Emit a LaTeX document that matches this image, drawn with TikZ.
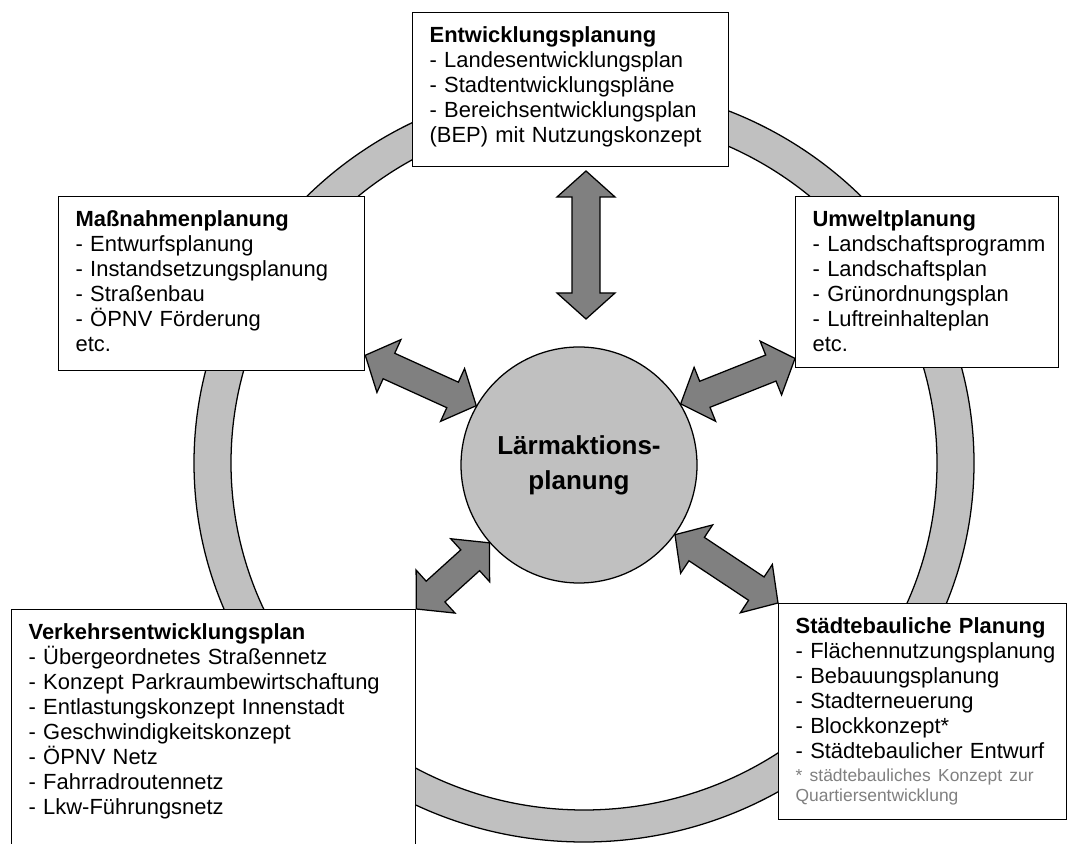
\documentclass[tikz,border=0pt]{standalone}
\usepackage{fontspec}
\setmainfont{Liberation Sans}
\usetikzlibrary{calc}
\definecolor{ringgray}{RGB}{192,192,192}
\definecolor{arrowgray}{RGB}{128,128,128}
\definecolor{notegray}{RGB}{128,128,128}
% block arrow with two heads
\newcommand{\dblarrow}[2]{%
	\coordinate (ha) at ($(#1)!0.65cm!(#2)$);
	\coordinate (hb) at ($(#2)!0.65cm!(#1)$);
	\filldraw[fill=arrowgray,line width=0.9pt] (#1)
		-- ($(ha)!0.725cm!90:(#2)$) -- ($(ha)!0.35cm!90:(#2)$)
		-- ($(hb)!0.35cm!-90:(#1)$) -- ($(hb)!0.725cm!-90:(#1)$)
		-- (#2)
		-- ($(hb)!0.725cm!90:(#1)$) -- ($(hb)!0.35cm!90:(#1)$)
		-- ($(ha)!0.35cm!-90:(#2)$) -- ($(ha)!0.725cm!-90:(#2)$)
		-- cycle;
}

\begin{document}
\begin{tikzpicture}[plan/.style={draw,fill=white,line width=0.9pt,anchor=north west,align=left,
		inner xsep=0.3cm,inner ysep=0pt,text height=0.75cm,text width=#1,
		execute at begin node={\leftskip=0.125cm\relax\rightskip=-0.3cm plus 1fil\relax},
		font=\fontsize{15.6pt}{17.8pt}\selectfont},
	]
	\useasboundingbox (0,0) rectangle (26.85,21.075);
	\clip (0,0) rectangle (26.85,21.075);
	%ring
	\filldraw[fill=ringgray,line width=0.9pt,even odd rule] (14.6,9.5) ellipse [x radius=9.75,y radius=9.475]
		(14.6,9.5) ellipse [x radius=8.825,y radius=8.675];
	%boxes
	\node[plan=7.3cm,text depth=3.1cm] (entw) at (10.3,20.775) {\textbf{Entwicklungsplanung}\\
		- Landesentwicklungsplan\\
		- Stadtentwicklungspläne\\
		- Bereichsentwicklungsplan\\
		(BEP) mit Nutzungskonzept};
	\node[plan=7.05cm,text depth=3.6cm] (mass) at (1.45,16.175) {\textbf{Maßnahmenplanung}\\
		- Entwurfsplanung\\
		- Instandsetzungsplanung\\
		- Straßenbau\\
		- ÖPNV Förderung\\
		etc.};
	\node[plan=5.975cm,text depth=3.525cm] (umwelt) at (19.875,16.175) {\textbf{Umweltplanung}\\
		- Landschaftsprogramm\\
		- Landschaftsplan\\
		- Grünordnungsplan\\
		- Luftreinhalteplan\\
		etc.};
	\node[plan=9.5cm,text depth=5.775cm] (verk) at (0.275,5.85) {\textbf{Verkehrsentwicklungsplan}\\
		- Übergeordnetes Straßennetz\\
		- Konzept Parkraumbewirtschaftung\\
		- Entlastungskonzept Innenstadt\\
		- Geschwindigkeitskonzept\\
		- ÖPNV Netz\\
		- Fahrradroutennetz\\
		- Lkw-Führungsnetz};
	\node[plan=6.6cm,text depth=4.65cm] (stadt) at (19.45,6.0) {\textbf{Städtebauliche Planung}\\
		- Flächennutzungsplanung\\
		- Bebauungsplanung\\
		- Stadterneuerung\\
		- Blockkonzept*\\
		- Städtebaulicher Entwurf\par\vspace{2pt}
		{\fontsize{12.4pt}{14.2pt}\selectfont\color{notegray}* städtebauliches Konzept zur\\
		Quartiersentwicklung\par}};
	%center
	\node[circle,draw,fill=ringgray,line width=0.9pt,minimum size=5.9cm,inner sep=0pt,align=center,
		font=\bfseries\fontsize{18.5pt}{25pt}\selectfont] (laerm) at (14.475,9.45) {Lärmaktions-\\planung};
	%arrows
	\coordinate (vtop) at (14.65,16.8);
	\coordinate (vbot) at (14.65,13.1);
	\dblarrow{vtop}{vbot}
	\dblarrow{mass.-25}{laerm.150}
	\dblarrow{umwelt.210}{laerm.31}
	\dblarrow{verk.north east}{laerm.221}
	\dblarrow{stadt.north west}{laerm.-36}
\end{tikzpicture}
\end{document}
